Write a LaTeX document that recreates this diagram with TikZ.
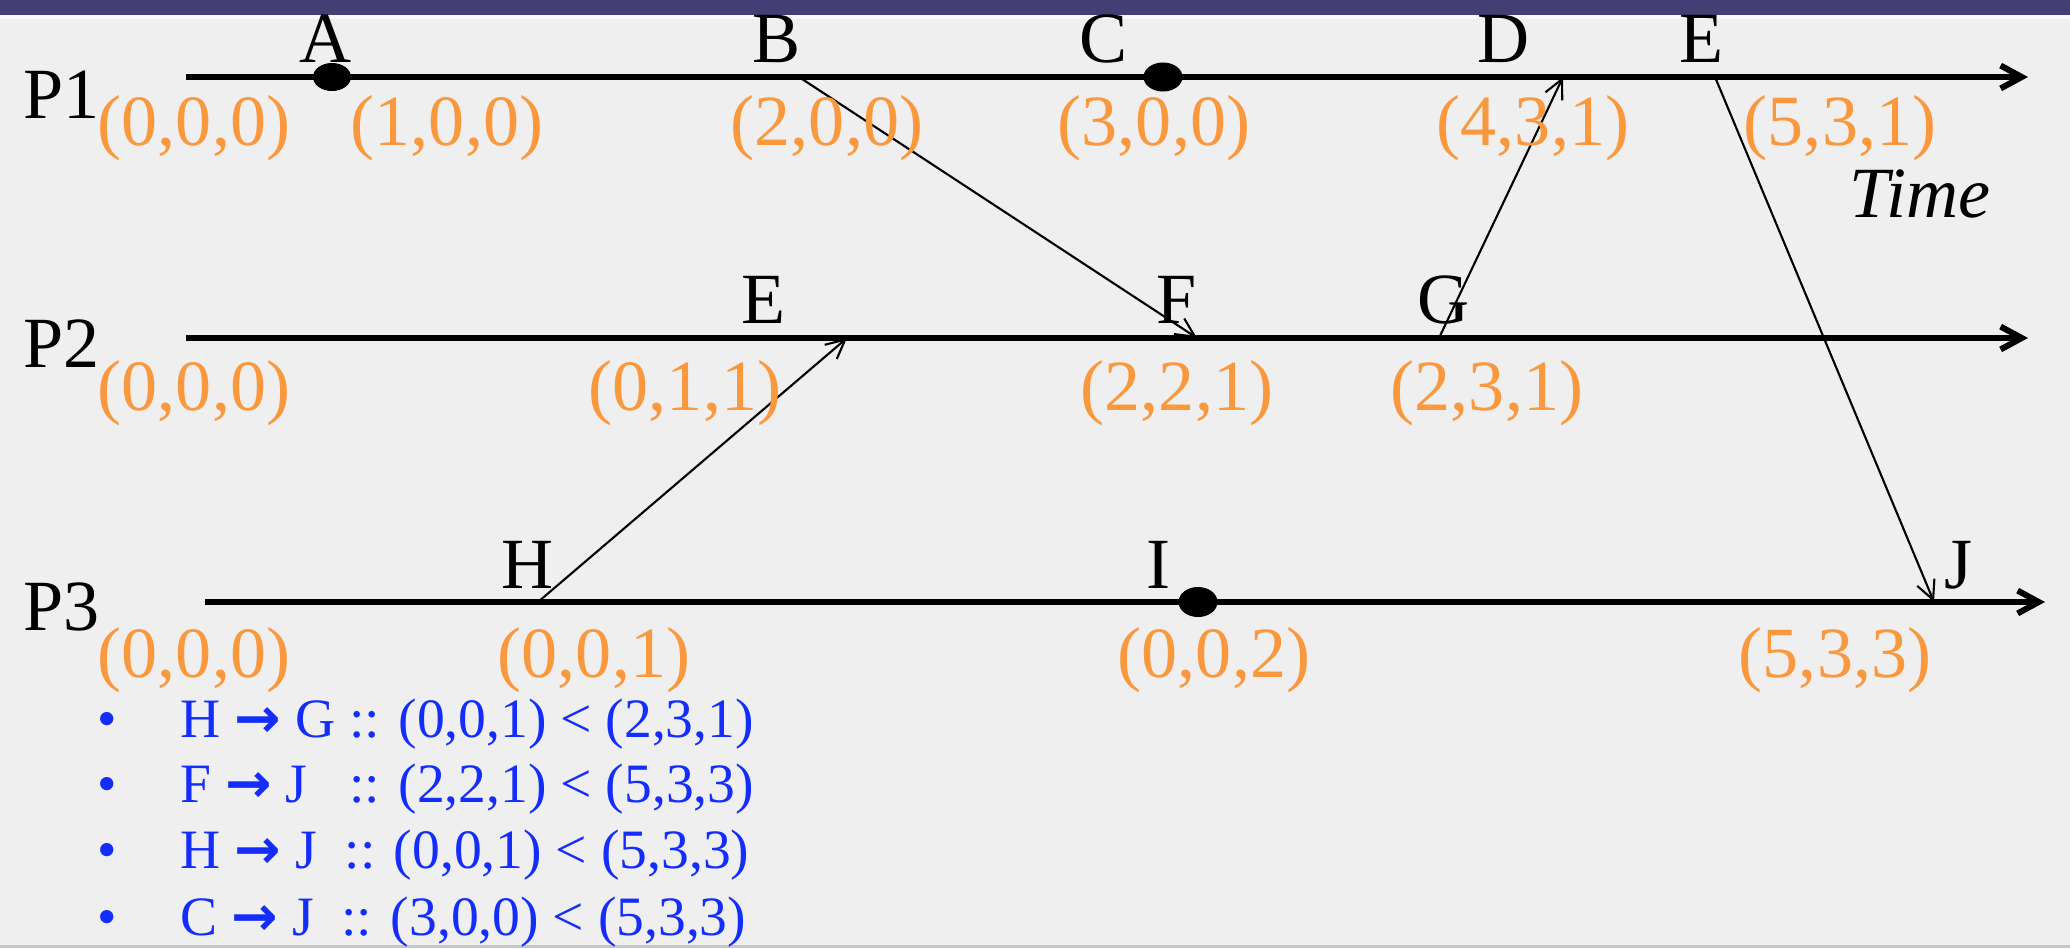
\documentclass[tikz,border=0pt]{standalone}
\usepackage{fontspec}
\setmainfont{Liberation Serif}
\newfontfamily\arrowfont{DejaVu Sans}
\usetikzlibrary{arrows.meta}

\definecolor{bgGray}{RGB}{239,239,239}
\definecolor{barBlue}{RGB}{67,62,115}
\definecolor{vecOrange}{RGB}{250,152,62}
\definecolor{noteBlue}{RGB}{20,45,250}

\newcommand{\causeArrow}{{\arrowfont\bfseries →}}

\tikzset{
  timeline/.style={line width=1.7pt,-{Straight Barb[length=6pt,width=6.5pt]}},
  msg/.style={line width=0.6pt,-{Straight Barb[length=5.4pt,width=5.3pt]}},
  evdot/.style={fill=black},
  proclabel/.style={anchor=base west,inner sep=0,font=\fontsize{20.5}{24}\selectfont},
  evlabel/.style={anchor=base,inner sep=0,font=\fontsize{20.5}{24}\selectfont},
  veclabel/.style={evlabel,text=vecOrange},
  notelabel/.style={anchor=base west,inner sep=0,text=noteBlue,font=\fontsize{15.8}{19}\selectfont}
}

\begin{document}
\begin{tikzpicture}[x=0.01cm,y=-0.01cm]

        % -----------
        % Parameters.
        % -----------

        % Time lines.
        \pgfmathsetmacro{\yPone}{77}      % y-position of P1 line.
        \pgfmathsetmacro{\yPtwo}{338}     % y-position of P2 line.
        \pgfmathsetmacro{\yPthree}{602}   % y-position of P3 line.

        % Baselines of the texts.
        \pgfmathsetmacro{\bEvOne}{62}     % Event letters on P1.
        \pgfmathsetmacro{\bEvTwo}{323}    % Event letters on P2.
        \pgfmathsetmacro{\bEvThree}{588}  % Event letters on P3.
        \pgfmathsetmacro{\bVecOne}{145}   % Vector clocks on P1.
        \pgfmathsetmacro{\bVecTwo}{410}   % Vector clocks on P2.
        \pgfmathsetmacro{\bVecThree}{677} % Vector clocks on P3.

        % --------
        % Drawing.
        % --------

        % Slide background.
        \fill[bgGray](0,0)rectangle(2070,948);
        \fill[barBlue](0,0)rectangle(2070,15);
        \fill[white!60!bgGray](0,15)rectangle(2070,19);
        \fill[gray!45](0,945)rectangle(2070,948);
        \useasboundingbox(0,0)rectangle(2070,948);

        % Time line end points.
        \coordinate(P1start)at(186,\yPone);
        \coordinate(P1end)at(2028,\yPone);
        \coordinate(P2start)at(186,\yPtwo);
        \coordinate(P2end)at(2028,\yPtwo);
        \coordinate(P3start)at(205,\yPthree);
        \coordinate(P3end)at(2045,\yPthree);

        % Events.
        \coordinate(evA)at(332,\yPone);
        \coordinate(evB)at(799,\yPone);
        \coordinate(evC)at(1163,\yPone);
        \coordinate(evD)at(1563,\yPone);
        \coordinate(evE)at(1715,\yPone);
        \coordinate(evEtwo)at(847,\yPtwo);
        \coordinate(evF)at(1197,\yPtwo);
        \coordinate(evG)at(1439,\yPtwo);
        \coordinate(evH)at(538,\yPthree);
        \coordinate(evI)at(1198,\yPthree);
        \coordinate(evJ)at(1934,\yPthree);

        % Time lines.
        \draw[timeline](P1start)--(P1end);
        \draw[timeline](P2start)--(P2end);
        \draw[timeline](P3start)--(P3end);

        % Messages.
        \draw[msg](evB)--(evF);
        \draw[msg](evH)--(evEtwo);
        \draw[msg](evG)--(evD);
        \draw[msg](evE)--(evJ);

        % Local events.
        \fill[evdot](evA)ellipse[x radius=0.19cm,y radius=0.14cm];
        \fill[evdot](evC)ellipse[x radius=0.195cm,y radius=0.145cm];
        \fill[evdot](evI)ellipse[x radius=0.195cm,y radius=0.15cm];

        % Process names.
        \node[proclabel](labP1)at(23,118){P1};
        \node[proclabel](labP2)at(23,367){P2};
        \node[proclabel](labP3)at(23,630){P3};

        % Event names.
        \node[evlabel](labA)at(326,\bEvOne){A};
        \node[evlabel](labB)at(777,\bEvOne){B};
        \node[evlabel](labC)at(1104,\bEvOne){C};
        \node[evlabel](labD)at(1504,\bEvOne){D};
        \node[evlabel](labE)at(1701,\bEvOne){E};
        \node[evlabel](labEtwo)at(764,\bEvTwo){E};
        \node[evlabel](labF)at(1177,\bEvTwo){F};
        \node[evlabel](labG)at(1444,\bEvTwo){G};
        \node[evlabel](labH)at(528,\bEvThree){H};
        \node[evlabel](labI)at(1158,\bEvThree){I};
        \node[evlabel](labJ)at(1958,\bEvThree){J};

        % Vector clocks of P1.
        \node[veclabel](vecPoneInit)at(194,\bVecOne){(0,0,0)};
        \node[veclabel](vecA)at(447,\bVecOne){(1,0,0)};
        \node[veclabel](vecB)at(827,\bVecOne){(2,0,0)};
        \node[veclabel](vecC)at(1154,\bVecOne){(3,0,0)};
        \node[veclabel](vecD)at(1533,\bVecOne){(4,3,1)};
        \node[veclabel](vecE)at(1840,\bVecOne){(5,3,1)};

        % Vector clocks of P2.
        \node[veclabel](vecPtwoInit)at(194,\bVecTwo){(0,0,0)};
        \node[veclabel](vecEtwo)at(685,\bVecTwo){(0,1,1)};
        \node[veclabel](vecF)at(1177,\bVecTwo){(2,2,1)};
        \node[veclabel](vecG)at(1487,\bVecTwo){(2,3,1)};

        % Vector clocks of P3.
        \node[veclabel](vecPthreeInit)at(194,\bVecThree){(0,0,0)};
        \node[veclabel](vecH)at(594,\bVecThree){(0,0,1)};
        \node[veclabel](vecI)at(1214,\bVecThree){(0,0,2)};
        \node[veclabel](vecJ)at(1835,\bVecThree){(5,3,3)};

        % Time axis.
        \node[evlabel,font=\fontsize{20.5}{24}\selectfont\itshape](labTime)at(1920,217){Time};

        % Causality notes.
        \node[notelabel](bulOne)at(97,737){•};
        \node[notelabel](noteOne)at(180,737){H \causeArrow\ G :: (0,0,1) < (2,3,1)};
        \node[notelabel](bulTwo)at(97,802){•};
        \node[notelabel](noteTwo)at(180,802){F \causeArrow\ J \ \ :: (2,2,1) < (5,3,3)};
        \node[notelabel](bulThree)at(97,868){•};
        \node[notelabel](noteThree)at(180,868){H \causeArrow\ J \ :: (0,0,1) < (5,3,3)};
        \node[notelabel](bulFour)at(97,935){•};
        \node[notelabel](noteFour)at(180,935){C \causeArrow\ J \ :: (3,0,0) < (5,3,3)};

\end{tikzpicture}
\end{document}
